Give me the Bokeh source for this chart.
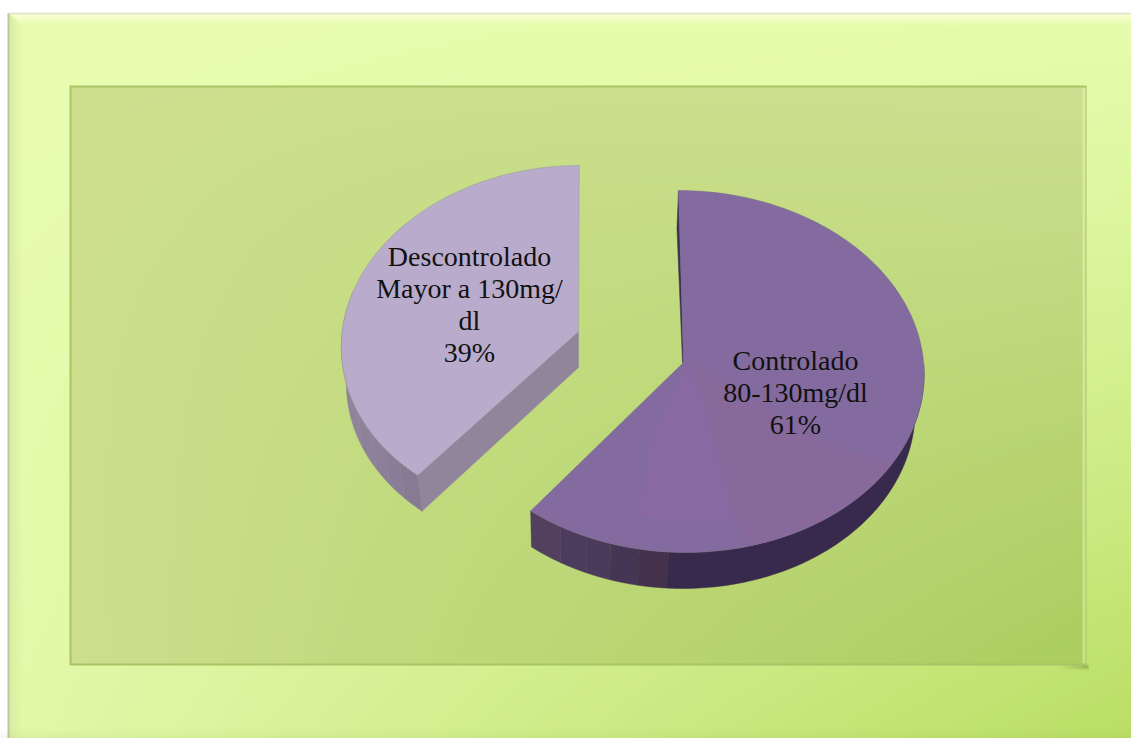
import numpy as np
from bokeh.core.properties import value
from bokeh.embed import file_html
from bokeh.models import Range1d
from bokeh.plotting import figure
from bokeh.resources import INLINE

# Chart values
categories = ["Controlado", "Descontrolado"]
subtitles = [["80-130mg/dl"], ["Mayor a 130mg/", "dl"]]
shares = [61, 39]

W, H = 1131, 738
DEPTH = 36
TEXT_FONT = value("Liberation Serif")
TEXT_SIZE = "28px"
LINE_STEP = 32


def flip(y):
    """Convert a distance from the top of the page to the plot's upward y scale."""
    return H - np.asarray(y, dtype=float)


def corners(tl, tr, bl, br, xs, ys):
    """Bilinear blend of four corner colours over a pixel grid."""
    tl, tr, bl, br = (np.array(c, dtype=float) for c in (tl, tr, bl, br))
    u = xs[..., None]
    v = ys[..., None]
    return (tl * (1 - u) + tr * u) * (1 - v) + (bl * (1 - u) + br * u) * v


def build_backdrop():
    yy, xx = np.mgrid[0:H, 0:W].astype(float)
    out = np.full((H, W, 3), 255.0)

    # Card gradient
    fx0, fy0 = 8, 13
    u = (xx - fx0) / (W - fx0)
    v = (yy - fy0) / (H - fy0)
    card = corners((232, 253, 176), (229, 252, 172), (226, 249, 170), (186, 222, 100), u, v ** 1.3)
    inside = (xx >= fx0) & (yy >= fy0)
    out[inside] = card[inside]

    # Card bevel: bright top strip, soft left strip, grey edge
    top = inside & (yy < 24) & ((yy - fy0) < (xx - fx0))
    t = np.clip((yy - fy0) / 11, 0, 1)[..., None]
    out = np.where(top[..., None], (1 - t) * np.array([254, 254, 214.0]) + t * card, out)
    left = inside & (xx < 22) & ((xx - fx0) <= (yy - fy0))
    t = np.clip((xx - fx0) / 14, 0, 1)[..., None]
    out = np.where(left[..., None], (1 - t) * np.array([216, 238, 160.0]) + t * card, out)
    out[(yy >= fy0 - 1) & (yy < fy0 + 1) & (xx >= fx0)] = (226, 232, 205)
    out[(xx >= fx0 - 1) & (xx < fx0 + 1) & (yy >= fy0)] = (190, 198, 170)
    low = np.clip((yy - 728) / 10, 0, 1)[..., None] * 0.08
    out = out * (1 - low) + np.array([120, 150, 60.0]) * low

    # Plot panel
    px0, py0, px1, py1 = 69, 85, 1085, 664
    shadow = np.exp(-((yy - 666) / 2.0) ** 2) * np.clip((xx - 1060) / 25, 0, 1) * (xx < 1088)
    out = out * (1 - 0.4 * shadow[..., None]) + np.array([90, 110, 50.0]) * 0.4 * shadow[..., None]
    in_panel = (xx >= px0) & (xx <= px1) & (yy >= py0) & (yy <= py1)
    u = (xx - px0) / (px1 - px0)
    v = (yy - py0) / (py1 - py0)
    panel = corners((206, 223, 142), (204, 224, 146), (204, 224, 142), (172, 205, 95), u, v)
    mid = np.exp(-(((u - 0.5) / 0.4) ** 2 + ((v - 0.55) / 0.6) ** 2))[..., None] * 0.14
    panel = panel * (1 - mid) + np.array([170, 215, 90.0]) * mid
    out[in_panel] = panel[in_panel]
    strip = (xx >= px1 - 3) & (xx <= px1) & (yy >= py0) & (yy <= py1)
    out[strip] = out[strip] * 0.55 + np.array([240, 250, 190.0]) * 0.45
    edge = in_panel & ((xx < px0 + 1.5) | (yy < py0 + 1.5) | (yy > py1 - 1.5) | (xx > px1 - 1))
    out[edge] = (168, 196, 100)

    # image_rgba rows run from the bottom of the plot upward
    rgba = np.dstack([out, np.full((H, W), 255.0)]).astype(np.uint8)[::-1]
    packed = np.empty((H, W), dtype=np.uint32)
    packed.view(dtype=np.uint8).reshape(H, W, 4)[:] = rgba
    return packed


class Wedge:
    """One pie slice in screen space: an elliptic top rim and a smaller bottom rim."""

    def __init__(self, cx, cy, rx, ry, shear, apex, low_cx, low_rx):
        self.cx, self.cy, self.rx, self.ry, self.shear = cx, cy, rx, ry, shear
        self.apex, self.low_cx, self.low_rx = apex, low_cx, low_rx

    def top(self, deg):
        a = np.radians(deg)
        y = self.cy - self.ry * np.cos(a)
        return self.cx + self.rx * np.sin(a) + self.shear * (y - self.cy), y

    def bottom(self, deg):
        a = np.radians(deg)
        y = self.cy - self.ry * np.cos(a)
        return self.low_cx + self.low_rx * np.sin(a) + self.shear * (y - self.cy), y + DEPTH


def arc(fn, a, b, n=120):
    return fn(np.linspace(a, b, n))


def band(wedge, a, b):
    tx, ty = arc(wedge.top, a, b)
    bx, by = arc(wedge.bottom, b, a)
    return np.r_[tx, bx], np.r_[ty, by]


p = figure(width=W, height=H, output_backend="svg", toolbar_location=None,
           x_range=Range1d(0, W), y_range=Range1d(0, H), min_border=0)
p.axis.visible = False
p.grid.visible = False
p.outline_line_color = None
p.image_rgba(image=[build_backdrop()], x=0, y=0, dw=W, dh=H)


def shape(xs, ys, **style):
    p.patch(np.asarray(xs, dtype=float), flip(ys), **style)


sweep_major = shares[0] / sum(shares) * 360

# Controlled slice
major = Wedge(681.6, 371, 242, 181, 0.02, (683, 362), 678.6, 236)
wall_major = ["#53405f", "#4c3b5e", "#4c3a5c", "#463655", "#44314b", "#382a4c"]
split = [sweep_major, 211, 204, 198, 191, 184, 88]
for i, colour in enumerate(wall_major):
    xs, ys = band(major, split[i + 1], split[i])
    shape(xs, ys, fill_color=colour, line_color=colour, line_width=0.5)

# Narrow inner face visible behind the leading edge
tx, ty = major.top(0)
shape([tx, tx - 1.5, major.apex[0] - 1, major.apex[0]],
      [ty, ty + 38, major.apex[1], major.apex[1]],
      fill_color="#3b2f55", line_color="#3b2f55", line_width=0.5)

xs, ys = arc(major.top, 0, sweep_major)
shape(np.r_[major.apex[0], xs], np.r_[major.apex[1], ys],
      fill_color="#836b9f", line_color="#7b6a8a", line_width=0.5)

# Soft reflections across the top of the slice
rx_a, ry_a = arc(major.top, 121, 164)
shape(np.r_[693, 827, rx_a, 733, 700], np.r_[363, 443, ry_a, 520, 393],
      fill_color="#88699c", line_color=None)
shape([687, 653, 638, 733, 700], [367, 433, 517, 520, 393],
      fill_color="#8969a2", line_color=None)

# Uncontrolled slice
minor = Wedge(570, 340, 229, 175, -0.05, (578, 331), 574, 228)
wall_minor = ["#857b92", "#897e97", "#8b8098", "#8d829a", "#8f849c"]
start_minor = sweep_major
split = [start_minor, 226, 232, 238, 246, 286]
for i, colour in enumerate(wall_minor):
    xs, ys = band(minor, split[i], split[i + 1])
    shape(xs, ys, fill_color=colour, line_color=colour, line_width=0.5)

vx, vy = minor.top(start_minor)
ax, ay = minor.apex
shape([ax, vx, vx + 4, ax], [ay, vy, vy + DEPTH, ay + DEPTH],
      fill_color="#91859c", line_color="#91859c", line_width=0.5)

xs, ys = arc(minor.top, start_minor, 360)
shape(np.r_[ax, xs], np.r_[ay, ys],
      fill_color="#b9abcb", line_color="#9a9a98", line_width=0.5)

# Data labels
label_anchor = [(795, 360), (469, 256)]
for name, extra, share, (lx, ly) in zip(categories, subtitles, shares, label_anchor):
    lines = [name, *extra, f"{share}%"]
    p.text(x=[lx] * len(lines), y=flip([ly + i * LINE_STEP for i in range(len(lines))]), text=lines,
           text_font=TEXT_FONT, text_font_size=TEXT_SIZE, text_color="#111111",
           text_align="center", text_baseline="middle")

open("out.html", "w").write(file_html(p, INLINE))
